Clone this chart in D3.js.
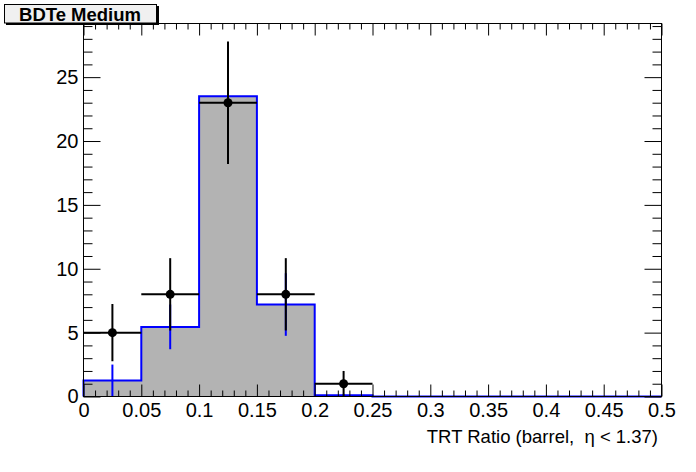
<!DOCTYPE html>
<html>
<head>
<meta charset="utf-8">
<script src="https://cdn.jsdelivr.net/npm/d3@7"></script>
<style>
  body { margin: 0; background: white; }
  text { font-family: "Liberation Sans", Arial, Helvetica, sans-serif; white-space: pre; }
</style>
</head>
<body>
<div id="chart"></div>
<script>
// bin edges of the histogram (TRT ratio)
var binEdges = [0, 0.05, 0.1, 0.15, 0.2, 0.25, 0.3, 0.35, 0.4, 0.45, 0.5];
// simulation (grey filled, blue outline)
var mcValues = [1.25, 5.45, 23.5, 7.2, 0.1, 0, 0, 0, 0, 0];
var mcErrors = [1.25, 1.75, 2.4, 2.45, 0.1, 0, 0, 0, 0, 0];
// data points (black markers)
var dataValues = [5, 8, 23, 8, 1, 0, 0, 0, 0, 0];
var dataErrors = [2.24, 2.83, 4.8, 2.83, 1.0, 0, 0, 0, 0, 0];
var xTicks = [0, 0.05, 0.1, 0.15, 0.2, 0.25, 0.3, 0.35, 0.4, 0.45, 0.5];
var yTicks = [0, 5, 10, 15, 20, 25];

var width = 696;
var height = 472;
var fLeft = 83.5, fRight = 661.5, fTop = 23.5, fBottom = 396.5;

var svg = d3.select('#chart').append('svg')
    .attr('width', width)
    .attr('height', height);

var xScale = d3.scaleLinear().domain([0, 0.5]).range([fLeft, fRight]);
var yScale = d3.scaleLinear().domain([0, 29.2]).range([fBottom, fTop]);

var bins = mcValues.map((v, i) => ({
    x0: binEdges[i], x1: binEdges[i + 1], mc: v, mcErr: mcErrors[i],
    val: dataValues[i], err: dataErrors[i]
}));

// step points for the simulation histogram
var pts = [[0, 0]];
bins.forEach(d => { pts.push([d.x0, d.mc]); pts.push([d.x1, d.mc]); });
pts.push([0.5, 0]);

// grey fill
svg.append('path')
    .attr('d', d3.area().x(p => xScale(p[0])).y0(yScale(0)).y1(p => yScale(p[1]))(pts))
    .attr('fill', '#b3b3b3');

// blue outline
svg.append('path')
    .attr('d', d3.line().x(p => xScale(p[0])).y(p => yScale(p[1]))(pts))
    .attr('fill', 'none')
    .attr('stroke', '#0000ff')
    .attr('stroke-width', 2);

// blue error bars
svg.append('g').selectAll('line')
    .data(bins.filter(d => d.mc > 0))
    .enter().append('line')
    .attr('x1', d => xScale((d.x0 + d.x1) / 2))
    .attr('x2', d => xScale((d.x0 + d.x1) / 2))
    .attr('y1', d => yScale(Math.max(0, d.mc - d.mcErr)))
    .attr('y2', d => yScale(d.mc + d.mcErr))
    .attr('stroke', '#0000ff')
    .attr('stroke-width', 2);

// data points
var dataBins = bins.filter(d => d.val > 0);
var g = svg.append('g');
g.selectAll('.hbar').data(dataBins).enter().append('line')
    .attr('class', 'hbar')
    .attr('x1', d => xScale(d.x0))
    .attr('x2', d => xScale(d.x1))
    .attr('y1', d => yScale(d.val))
    .attr('y2', d => yScale(d.val))
    .attr('stroke', 'black')
    .attr('stroke-width', 2);
g.selectAll('.vbar').data(dataBins).enter().append('line')
    .attr('class', 'vbar')
    .attr('x1', d => xScale((d.x0 + d.x1) / 2))
    .attr('x2', d => xScale((d.x0 + d.x1) / 2))
    .attr('y1', d => yScale(Math.max(0, d.val - d.err)))
    .attr('y2', d => yScale(d.val + d.err))
    .attr('stroke', 'black')
    .attr('stroke-width', 2);
g.selectAll('circle').data(dataBins).enter().append('circle')
    .attr('cx', d => xScale((d.x0 + d.x1) / 2))
    .attr('cy', d => yScale(d.val))
    .attr('r', 4.5)
    .attr('fill', 'black');

// frame
svg.append('rect')
    .attr('x', fLeft).attr('y', fTop)
    .attr('width', fRight - fLeft).attr('height', fBottom - fTop)
    .attr('fill', 'none').attr('stroke', 'black').attr('stroke-width', 1);

var fmt = d => String(+d.toFixed(2));
var xMinor = d3.range(0, 51).map(i => i / 100).filter(v => Math.round(v * 100) % 5 !== 0);
var yMinor = d3.range(0, 30).filter(v => v % 5 !== 0);

function clean(sel) { sel.select('.domain').remove(); sel.selectAll('line').attr('stroke', 'black'); }

svg.append('g').attr('transform', `translate(0,${fBottom})`)
    .call(d3.axisBottom(xScale).tickValues(xTicks).tickSize(-12).tickPadding(6).tickFormat(fmt))
    .call(clean)
    .selectAll('text').attr('font-size', 20).attr('fill', 'black');
svg.append('g').attr('transform', `translate(0,${fBottom})`)
    .call(d3.axisBottom(xScale).tickValues(xMinor).tickSize(-6).tickFormat(''))
    .call(clean);
svg.append('g').attr('transform', `translate(0,${fTop})`)
    .call(d3.axisTop(xScale).tickValues(xTicks).tickSize(-12).tickFormat(''))
    .call(clean);
svg.append('g').attr('transform', `translate(0,${fTop})`)
    .call(d3.axisTop(xScale).tickValues(xMinor).tickSize(-6).tickFormat(''))
    .call(clean);

svg.append('g').attr('transform', `translate(${fLeft},0)`)
    .call(d3.axisLeft(yScale).tickValues(yTicks).tickSize(-17).tickPadding(5).tickFormat(d3.format('d')))
    .call(clean)
    .selectAll('text').attr('font-size', 20).attr('fill', 'black');
svg.append('g').attr('transform', `translate(${fLeft},0)`)
    .call(d3.axisLeft(yScale).tickValues(yMinor).tickSize(-9).tickFormat(''))
    .call(clean);
svg.append('g').attr('transform', `translate(${fRight},0)`)
    .call(d3.axisRight(yScale).tickValues(yTicks).tickSize(-17).tickFormat(''))
    .call(clean);
svg.append('g').attr('transform', `translate(${fRight},0)`)
    .call(d3.axisRight(yScale).tickValues(yMinor).tickSize(-9).tickFormat(''))
    .call(clean);

// axis title
svg.append('text')
    .attr('x', 658).attr('y', 443)
    .attr('text-anchor', 'end')
    .attr('font-size', 18.5)
    .text('TRT Ratio (barrel,  \u03b7 < 1.37)');

// title box
svg.append('rect')
    .attr('x', 6).attr('y', 6).attr('width', 153).attr('height', 19)
    .attr('fill', 'black');
svg.append('rect')
    .attr('x', 4.5).attr('y', 4.5).attr('width', 152).attr('height', 18.5)
    .attr('fill', '#f0f0f0').attr('stroke', 'black').attr('stroke-width', 1);
svg.append('text')
    .attr('x', 80).attr('y', 20.5)
    .attr('text-anchor', 'middle')
    .attr('font-size', 18.5)
    .attr('font-weight', 'bold')
    .text('BDTe Medium');
</script>
</body>
</html>
